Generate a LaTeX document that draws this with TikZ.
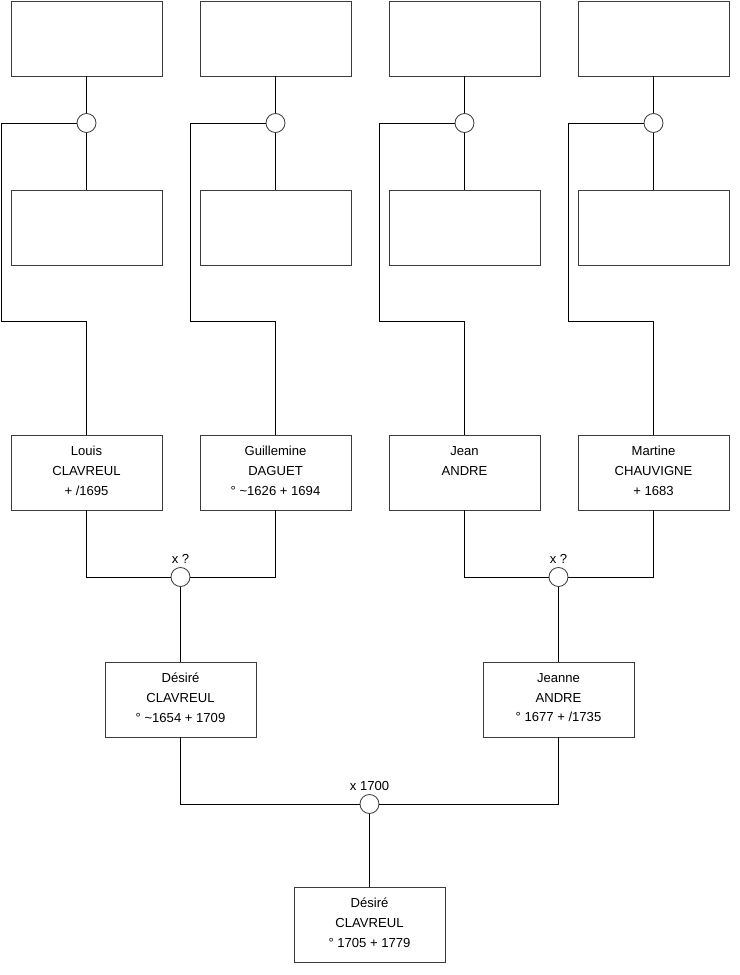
\documentclass[tikz,border=0pt]{standalone}
\usepackage{fontspec}
\setmainfont{Liberation Sans}
\usetikzlibrary{positioning,calc}
\definecolor{boxGray}{RGB}{60,60,60}

\tikzset{
  person/.style={draw=boxGray,line width=0.6pt,minimum width=3.775cm,minimum height=1.875cm,
    align=center,inner sep=0pt,text depth=0.1cm,font=\fontsize{9.3pt}{14.2pt}\selectfont},
  union/.style={circle,draw=boxGray,line width=0.6pt,fill=white,minimum size=0.475cm,inner sep=0pt},
  link/.style={black,line width=0.6pt},
  wedlabel/.style={font=\fontsize{9.3pt}{11pt}\selectfont,inner sep=1pt}
}

\begin{document}
\begin{tikzpicture}[x=0.025cm,y=-0.025cm]
  \useasboundingbox (0,0) rectangle (740,975);
  % Great-grandparents (empty boxes)
  \node[person] (t1) at (86.5,38.5) {};
  \node[person] (t2) at (275.5,38.5) {};
  \node[person] (t3) at (464.5,38.5) {};
  \node[person] (t4) at (653.5,38.5) {};
  \node[person] (m1) at (86.5,227.5) {};
  \node[person] (m2) at (275.5,227.5) {};
  \node[person] (m3) at (464.5,227.5) {};
  \node[person] (m4) at (653.5,227.5) {};
  % Unions of the top row
  \node[union] (u1) at (86.5,123) {};
  \node[union] (u2) at (275.5,123) {};
  \node[union] (u3) at (464.5,123) {};
  \node[union] (u4) at (653.5,123) {};
  % Grandparents
  \node[person] (p1) at (86.5,472.5) {Louis\\CLAVREUL\\+ /1695};
  \node[person] (p2) at (275.5,472.5) {Guillemine\\DAGUET\\° \textasciitilde1626 + 1694};
  \node[person] (p3) at (464.5,472.5) {Jean\\ANDRE\\\phantom{0}};
  \node[person] (p4) at (653.5,472.5) {Martine\\CHAUVIGNE\\+ 1683};
  % Parents
  \node[union] (u5) at (180.5,577) {};
  \node[union] (u6) at (558.5,577) {};
  \node[wedlabel,above=1pt of u5] (w5) {x ?};
  \node[wedlabel,above=1pt of u6] (w6) {x ?};
  \node[person] (d1) at (180.5,699.5) {Désiré\\CLAVREUL\\° \textasciitilde1654 + 1709};
  \node[person] (d2) at (558.5,699.5) {Jeanne\\ANDRE\\° 1677 + /1735};
  % Child
  \node[union] (u7) at (369.5,804) {};
  \node[wedlabel,above=1pt of u7] (w7) {x 1700};
  \node[person] (k) at (369.5,924.5) {Désiré\\CLAVREUL\\° 1705 + 1779};
  % Side bends
  \coordinate (b1) at (1,321);
  \coordinate (b2) at (190,321);
  \coordinate (b3) at (379,321);
  \coordinate (b4) at (568,321);
  % Connectors
  \foreach \i in {1,...,4}{
    \draw[link] (t\i) -- (u\i) -- (m\i);
    \draw[link] (u\i.west) -| (b\i) -| (p\i.north);
  }
  \draw[link] (p1.south) |- (u5.west);
  \draw[link] (p2.south) |- (u5.east);
  \draw[link] (u5) -- (d1);
  \draw[link] (p3.south) |- (u6.west);
  \draw[link] (p4.south) |- (u6.east);
  \draw[link] (u6) -- (d2);
  \draw[link] (d1.south) |- (u7.west);
  \draw[link] (d2.south) |- (u7.east);
  \draw[link] (u7) -- (k);
\end{tikzpicture}
\end{document}
